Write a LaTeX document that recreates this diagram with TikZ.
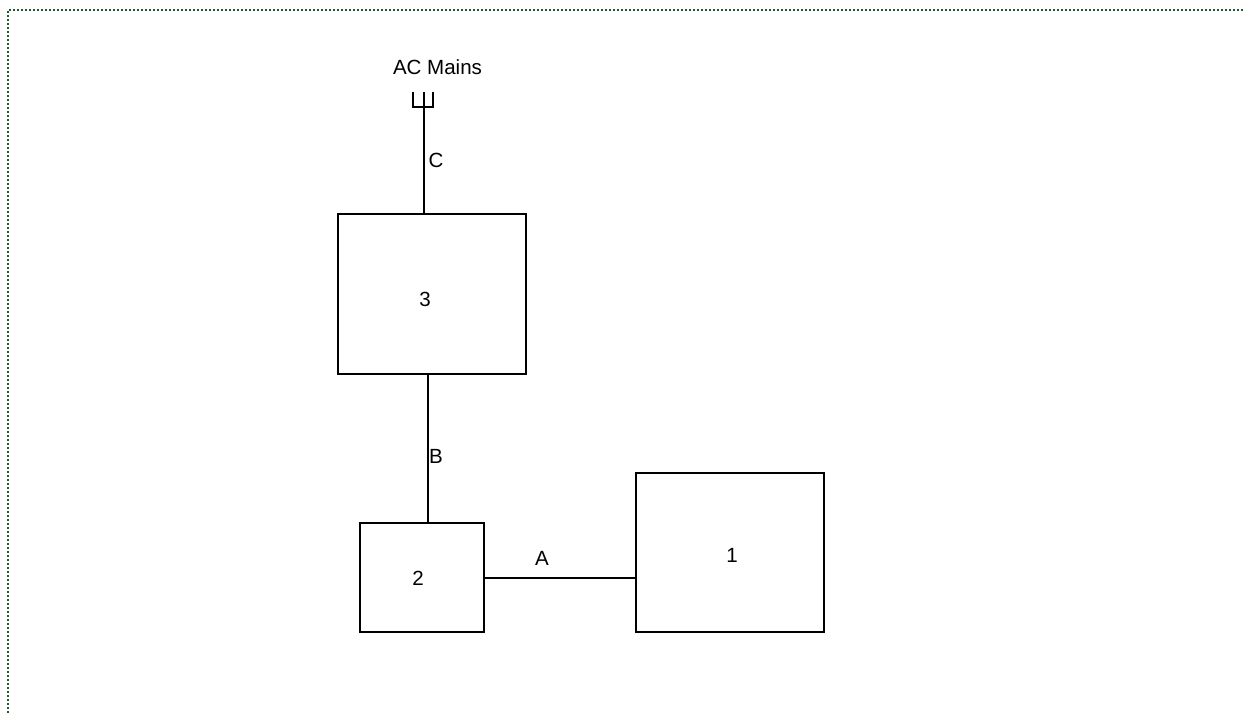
\documentclass[tikz,border=0pt]{standalone}
\usepackage{fontspec}
\setmainfont{Liberation Sans}
\usepackage{tikz}
\usetikzlibrary{positioning}
\definecolor{framegreen}{HTML}{1F5A2E}

\begin{document}
\begin{tikzpicture}[x=0.75pt, y=-0.75pt,
    box/.style={draw, line width=1.1pt, minimum width=#1, inner sep=0pt},
    tag/.style={font=\fontsize{15.4}{18}\selectfont, inner sep=0pt},
    wire/.style={line width=1.1pt}]
            \useasboundingbox (0,0) rectangle (1243,714);

            % Frame
            \coordinate (ftop) at (1243,10);
            \coordinate (fcorner) at (8,10);
            \coordinate (fbottom) at (8,714);
            \draw[framegreen, line width=1.8pt, dash pattern=on 1.5pt off 1.5pt] (ftop) -- (fcorner) -- (fbottom);

            % Nodes
            \node[box=141pt, minimum height=120pt] (three) at (432,294) {};
            \node[box=93pt, minimum height=81.75pt] (two) at (422,577.5) {};
            \node[box=141pt, minimum height=119.25pt] (one) at (730,552.5) {};
            \coordinate (plug) at (424,92);
            \coordinate (plugl) at (413,92);
            \coordinate (plugr) at (433,92);
            \coordinate (bwire) at (428,374);
            \coordinate (awire) at (484,578);

            % Labels
            \node[tag] (mains) at (437.5,67) {AC Mains};
            \node[tag] (lc) at (436,160) {C};
            \node[tag] (lb) at (436,456) {B};
            \node[tag] (la) at (542,558) {A};
            \node[tag] (l3) at (425,299) {3};
            \node[tag] (l2) at (418,578) {2};
            \node[tag] (l1) at (732,555) {1};

            % Wires
            \draw[wire] (plug) -- (plug |- three.north);
            \draw[wire] (plugl) |- (plugr |- 0,107) -- (plugr);
            \draw[wire] (bwire) -- (bwire |- two.north);
            \draw[wire] (awire) -- (awire -| one.west);
          \end{tikzpicture}
\end{document}
